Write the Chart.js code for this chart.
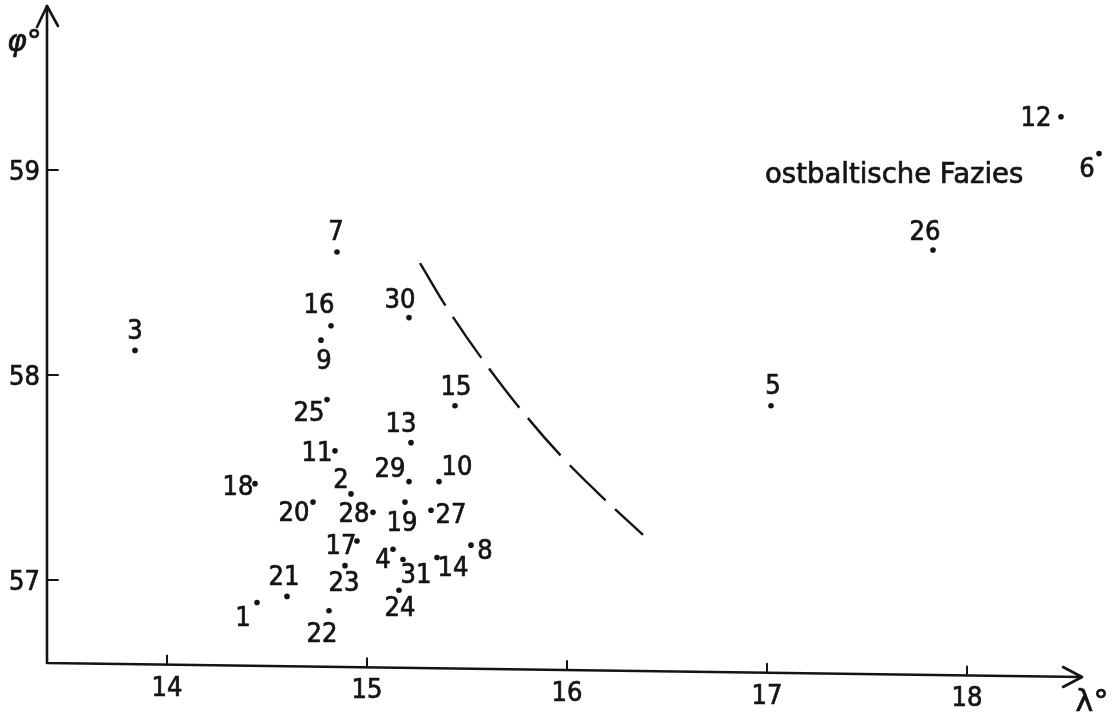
<!DOCTYPE html>
<html>
<head>
<meta charset="utf-8">
<script src="https://cdn.jsdelivr.net/npm/chart.js@4"></script>
<style>
  body { margin: 0; background: #fff; }
</style>
</head>
<body>
<canvas id="myChart" width="1118" height="718"></canvas>
<script>
// Stationen (Nummer, Länge λ°, Breite φ°)
const stations = ['1','2','3','4','5','6','7','8','9','10','11','12','13','14','15','16',
                  '17','18','19','20','21','22','23','24','25','26','27','28','29','30','31'];
const lon = [14.45,14.92,13.84,15.13,17.02,18.66,14.85,15.52,14.77,15.36,14.84,18.47,15.22,15.35,15.44,14.82,
             14.95,14.44,15.19,14.73,14.60,14.81,14.89,15.16,14.80,17.83,15.32,15.03,15.21,15.21,15.18];
const lat = [56.89,57.42,58.12,57.15,57.85,59.08,58.60,57.17,58.17,57.48,57.63,59.26,57.67,57.11,57.85,58.24,
             57.19,57.47,57.38,57.38,56.92,56.85,57.07,56.95,57.88,58.61,57.34,57.33,57.48,58.28,57.10];

// Grenzlinie (gestrichelt)
const borderLon = [15.265,15.41,15.605,15.80,15.98,16.15,16.38];
const borderLat = [58.546,58.312,58.039,57.795,57.595,57.429,57.220];

const xTicks = [14,15,16,17,18];
const yTicks = [57,58,59];
const faciesText = 'ostbaltische Fazies';

// label placement around each dot, px (dx, dy)
const labelOffsets = [[-14,14],[-10,-15],[0,-20],[-10,10],[2,-21],[-12,14],[-1,-21],[14,5],[3,20],[18,-16],
  [-18,1],[-25,0],[-10,-20],[16,10],[1,-20],[-12,-22],[-16,4],[-17,2],[-3,20],[-19,10],[-3,-20],[-7,22],
  [-1,16],[1,17],[-18,12],[-8,-19],[20,4],[-19,1],[-19,-14],[-9,-19],[13,14]];

const NUMFONT = '"DejaVu Sans Condensed", "Liberation Sans Narrow", "DejaVu Sans", sans-serif';
const TXTFONT = '"DejaVu Sans", sans-serif';
const INK = '#141414';

function heavyText(c, s, x, y) {
  c.fillText(s, x, y);
  c.strokeText(s, x, y);
}

const drawing = {
  id: 'drawing',
  afterDatasetsDraw(chart) {
    const c = chart.ctx;
    const xs = chart.scales.x, ys = chart.scales.y;
    const x0 = xs.left, y0 = ys.bottom + 1;
    const xEnd = 1082, yTop = ys.top;
    const slant = 14 / (xEnd - x0);
    const axisY = px => y0 + (px - x0) * slant;

    c.save();
    c.strokeStyle = INK;
    c.lineWidth = 2.6;
    c.lineCap = 'round';
    c.lineJoin = 'round';
    // axes
    c.beginPath();
    c.moveTo(x0, yTop);
    c.lineTo(x0, y0);
    c.lineTo(xEnd, axisY(xEnd));
    c.stroke();
    // arrows
    c.beginPath();
    c.moveTo(x0 - 10, yTop + 21);
    c.lineTo(x0, yTop);
    c.lineTo(x0 + 11, yTop + 20);
    c.moveTo(xEnd - 19, axisY(xEnd) - 10);
    c.lineTo(xEnd, axisY(xEnd));
    c.lineTo(xEnd - 19, axisY(xEnd) + 10);
    c.stroke();
    // tick marks
    c.lineWidth = 2;
    c.beginPath();
    xTicks.forEach(v => {
      const p = xs.getPixelForValue(v);
      c.moveTo(p, axisY(p));
      c.lineTo(p, axisY(p) - 9);
    });
    yTicks.forEach(v => {
      const p = ys.getPixelForValue(v);
      c.moveTo(x0, p);
      c.lineTo(x0 + 11, p);
    });
    c.stroke();

    // tick labels
    c.fillStyle = INK;
    c.lineWidth = 0.7;
    c.font = '27px ' + NUMFONT;
    c.textAlign = 'center';
    c.textBaseline = 'middle';
    xTicks.forEach(v => {
      const p = xs.getPixelForValue(v);
      heavyText(c, String(v), p, axisY(p) + 24);
    });
    c.textAlign = 'right';
    yTicks.forEach(v => {
      heavyText(c, String(v), 40, ys.getPixelForValue(v) + 3);
    });

    // station numbers
    c.textAlign = 'center';
    const meta = chart.getDatasetMeta(0);
    meta.data.forEach((pt, i) => {
      const o = labelOffsets[i];
      heavyText(c, stations[i], pt.x + o[0], pt.y + o[1] + 2);
    });

    // axis names
    c.font = '30px ' + TXTFONT;
    c.textAlign = 'center';
    heavyText(c, 'λ°', 1092, 703);
    c.font = 'italic 30px ' + TXTFONT;
    c.textAlign = 'left';
    heavyText(c, 'φ°', 7, 43);

    // facies note
    c.font = '27.5px ' + TXTFONT;
    c.textAlign = 'left';
    c.textBaseline = 'alphabetic';
    heavyText(c, faciesText, 765, 183);
    c.restore();
  }
};

new Chart(document.getElementById('myChart'), {
  type: 'scatter',
  data: {
    datasets: [{
      label: 'Stationen',
      data: lon.map((v, i) => ({ x: v, y: lat[i] })),
      pointRadius: 2.8,
      pointHoverRadius: 2.8,
      backgroundColor: INK,
      borderWidth: 0
    },
    {
      label: 'Grenze',
      data: borderLon.map((v, i) => ({ x: v, y: borderLat[i] })),
      showLine: true,
      tension: 0.4,
      borderColor: INK,
      borderWidth: 2.4,
      borderDash: [50, 13],
      pointRadius: 0
    }]
  },
  options: {
    responsive: false,
    animation: false,
    events: [],
    layout: { padding: { top: 6, right: 11, left: 0, bottom: 0 } },
    plugins: { legend: { display: false }, tooltip: { enabled: false } },
    scales: {
      x: {
        type: 'linear',
        min: 13.4,
        max: 18.7,
        afterFit(scale) { scale.height = 56; },
        grid: { display: false, drawTicks: false },
        border: { display: false },
        ticks: { display: false }
      },
      y: {
        type: 'linear',
        min: 56.6,
        max: 59.8,
        afterFit(scale) { scale.width = 47; },
        grid: { display: false, drawTicks: false },
        border: { display: false },
        ticks: { display: false }
      }
    }
  },
  plugins: [drawing]
});
</script>
</body>
</html>
